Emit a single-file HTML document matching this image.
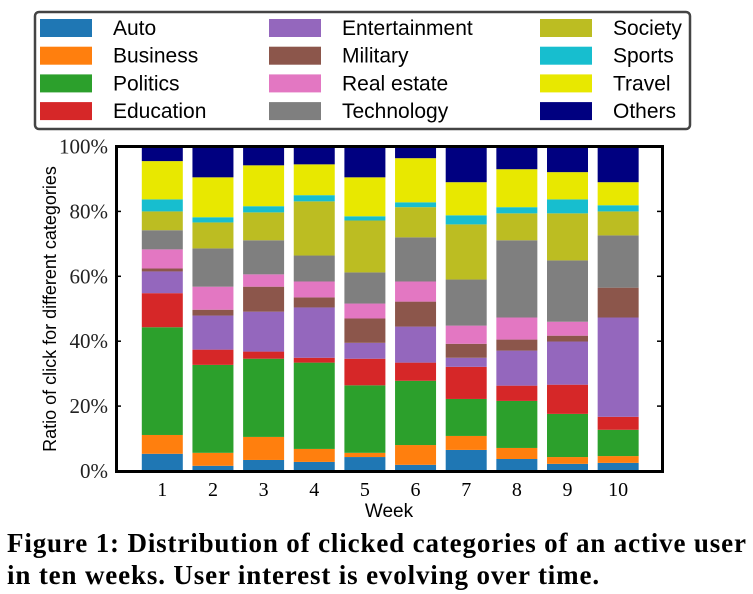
<!DOCTYPE html>
<html><head><meta charset="utf-8"><style>
body{margin:0;background:#fff;width:753px;height:594px;overflow:hidden;position:relative}
.cap{position:absolute;left:7px;font-family:"Liberation Serif",serif;font-weight:bold;font-size:27px;letter-spacing:0.85px;color:#000;white-space:nowrap;line-height:30px}
</style></head><body>
<svg id="chart" width="753" height="525" style="position:absolute;left:0;top:0">
<rect x="35" y="12" width="655" height="117" rx="4" fill="#fff" stroke="#444" stroke-width="2.5"/>
<g id="legend"></g>
<g id="bars"></g>
<rect x="116.5" y="146.5" width="546" height="325" fill="none" stroke="#000" stroke-width="3"/>
<g id="axes"></g>
<text transform="translate(56,309) rotate(-90)" text-anchor="middle" font-family="Liberation Sans, sans-serif" font-size="18">Ratio of click for different categories</text>
<text x="389" y="517" text-anchor="middle" font-family="Liberation Sans, sans-serif" font-size="19">Week</text>
</svg>
<div class="cap" style="top:528px">Figure 1: Distribution of clicked categories of an active user</div>
<div class="cap" style="top:560px">in ten weeks. User interest is evolving over time.</div>
<script>
const weeks=[1,2,3,4,5,6,7,8,9,10];
const categories=["Auto","Business","Politics","Education","Entertainment","Military","Real estate","Technology","Society","Sports","Travel","Others"];
const colors=["#1f77b4","#ff7f0e","#2ca02c","#d62728","#9467bd","#8c564b","#e377c2","#7f7f7f","#bcbd22","#17becf","#e8e800","#000080"];
const auto=[5.3,1.6,3.4,2.8,4.3,1.9,6.5,3.7,2.2,2.5];
const business=[5.8,4.0,7.1,4.0,1.3,6.1,4.3,3.4,2.1,2.1];
const politics=[33.2,27.1,24.1,26.6,20.8,19.8,11.4,14.5,13.3,8.1];
const education=[10.5,4.7,2.2,1.5,8.2,5.6,9.9,4.7,9.0,4.0];
const entertainment=[6.7,10.5,12.3,15.5,4.9,11.1,2.8,10.8,13.3,30.6];
const military=[0.9,1.8,7.7,3.1,7.5,7.7,4.3,3.4,1.8,9.2];
const realEstate=[5.9,7.1,3.8,4.9,4.6,6.2,5.6,6.8,4.3,0];
const technology=[5.9,11.8,10.5,8.0,9.6,13.6,14.2,23.8,18.9,16.1];
const society=[5.8,8.0,8.6,16.7,16.0,9.3,17.0,8.3,14.5,7.4];
const sports=[3.7,1.6,1.9,1.9,1.3,1.5,2.8,1.9,4.3,1.9];
const travel=[11.8,12.3,12.6,9.5,12.0,13.6,10.2,11.7,8.4,7.1];
const others=[4.5,9.5,5.8,5.5,9.5,3.6,11.0,7.0,7.9,11.0];
const yTicks=[0,20,40,60,80,100];
const series=[auto,business,politics,education,entertainment,military,realEstate,technology,society,sports,travel,others];
const NS="http://www.w3.org/2000/svg";
const y=v=>471-v*3.245;
const x=i=>162.3+i*50.65;
const bw=41;
const bars=document.getElementById('bars');
weeks.forEach((w,i)=>{
  let tot=0;series.forEach(s=>tot+=s[i]);
  let cum=0;
  series.forEach((s,k)=>{
    const v=s[i]/tot*100;
    const r=document.createElementNS(NS,'rect');
    
    
    r.setAttribute('x',x(i)-bw/2);r.setAttribute('width',bw);
    r.setAttribute('y',y(cum+v));r.setAttribute('height',Math.max(0,y(cum)-y(cum+v)));
    r.setAttribute('fill',colors[k]);
    bars.appendChild(r);cum+=v;
  });
});
const axes=document.getElementById('axes');
yTicks.forEach(t=>{
  const l=document.createElementNS(NS,'line');
  
  
  l.setAttribute('x1',116);l.setAttribute('x2',121);l.setAttribute('y1',y(t));l.setAttribute('y2',y(t));l.setAttribute('stroke','#000');l.setAttribute('stroke-width','1.5');
  axes.appendChild(l);
  const l2=document.createElementNS(NS,'line');
  
  
  l2.setAttribute('x1',657);l2.setAttribute('x2',663);l2.setAttribute('y1',y(t));l2.setAttribute('y2',y(t));l2.setAttribute('stroke','#000');l2.setAttribute('stroke-width','1.5');
  axes.appendChild(l2);
  const tx=document.createElementNS(NS,'text');
  
  
  tx.setAttribute('x',108);tx.setAttribute('y',y(t)+7);tx.setAttribute('text-anchor','end');
  tx.setAttribute('font-family','Liberation Serif, serif');tx.setAttribute('font-size','21');tx.setAttribute('fill','#222');
  tx.textContent=t+'%';axes.appendChild(tx);
});
weeks.forEach((w,i)=>{
  const tx=document.createElementNS(NS,'text');
  
  
  tx.setAttribute('x',x(i));tx.setAttribute('y',496);tx.setAttribute('text-anchor','middle');
  tx.setAttribute('font-family','Liberation Serif, serif');tx.setAttribute('font-size','20');
  tx.textContent=w;axes.appendChild(tx);
});
const leg=document.getElementById('legend');
categories.forEach((c,k)=>{
  const col=Math.floor(k/4),row=k%4;
  const sx=[40,269,540][col],ty=19+row*27.7;
  const r=document.createElementNS(NS,'rect');
  
  
  r.setAttribute('x',sx);r.setAttribute('y',ty);r.setAttribute('width',52);r.setAttribute('height',18);r.setAttribute('fill',colors[k]);
  leg.appendChild(r);
  const t=document.createElementNS(NS,'text');
  
  
  t.setAttribute('x',sx+73);t.setAttribute('y',ty+16);
  t.setAttribute('font-family','Liberation Sans, sans-serif');t.setAttribute('font-size','21');
  t.textContent=c;leg.appendChild(t);
});
</script>
</body></html>
